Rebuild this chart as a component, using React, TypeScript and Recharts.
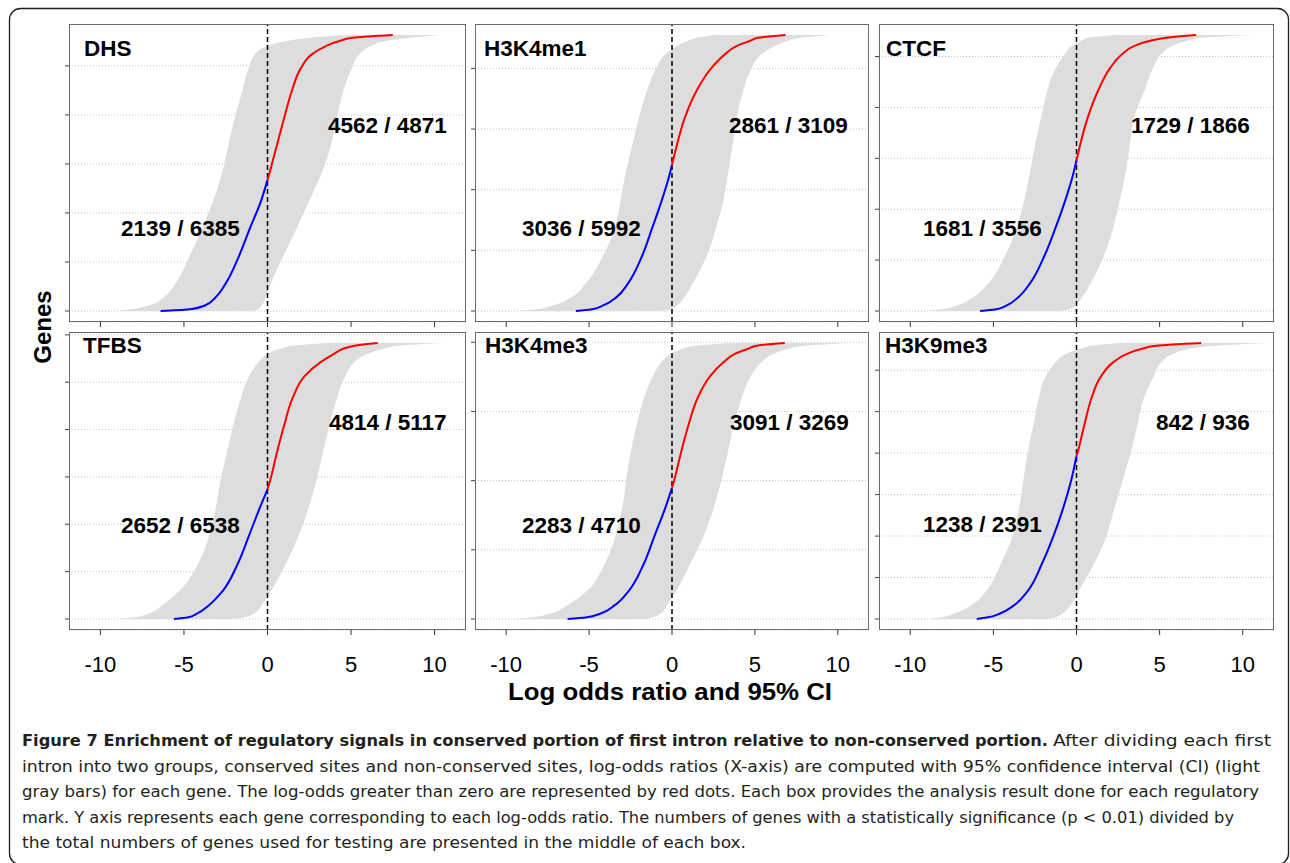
import React from "react";
import { ComposedChart, Area, Line, XAxis, YAxis, CartesianGrid, ReferenceLine } from "recharts";

// quantile of the gene rank (0 = first gene, 1 = last gene), shared by every panel
const quantiles = [0, 0.005, 0.02, 0.05, 0.1, 0.2, 0.3, 0.4, 0.5, 0.6, 0.7, 0.8, 0.88, 0.93, 0.96, 0.98, 0.99, 1];

const marks = ["DHS", "H3K4me1", "CTCF", "TFBS", "H3K4me3", "H3K9me3"];
const sigPositive = [4562, 2861, 1729, 4814, 3091, 842];
const totalPositive = [4871, 3109, 1866, 5117, 3269, 936];
const sigNegative = [2139, 3036, 1681, 2652, 2283, 1238];
const totalNegative = [6385, 5992, 3556, 6538, 4710, 2391];
// rank quantile where the log odds ratio crosses zero (blue -> red)
const crossQuantiles = [0.475, 0.53, 0.545, 0.47, 0.475, 0.59];

const xTicks = [-10, -5, 0, 5, 10];
const geneTicks = [
  [0, 2000, 4000, 6000, 8000, 10000],
  [0, 2000, 4000, 6000, 8000],
  [0, 1000, 2000, 3000, 4000, 5000],
  [0, 2000, 4000, 6000, 8000, 10000, 12000],
  [0, 2000, 4000, 6000, 8000],
  [0, 500, 1000, 1500, 2000, 2500, 3000],
];

// log odds ratio, lower and upper 95% CI at each quantile
const dhsEstimate = [-6.4, -4.8, -3.75, -3.1, -2.5, -1.7, -1.05, -0.38, 0.12, 0.56, 1.0, 1.47, 2.0, 2.65, 3.5, 4.4, 5.1, 7.5];
const dhsLower = [-9.0, -8.3, -7.1, -6.2, -5.5, -4.65, -3.9, -3.25, -2.72, -2.35, -1.95, -1.5, -1.13, -0.75, 0.0, 1.3, 2.5, 4.5];
const dhsUpper = [-1.0, -0.6, -0.35, -0.1, 0.2, 0.95, 1.75, 2.5, 3.25, 3.8, 4.15, 4.55, 5.05, 5.5, 6.2, 7.2, 8.5, 10.3];

const h3k4me1Estimate = [-5.8, -4.9, -4.15, -3.35, -2.65, -1.8, -1.2, -0.62, -0.12, 0.29, 0.77, 1.5, 2.37, 3.19, 3.88, 4.75, 5.2, 6.85];
const h3k4me1Lower = [-9.5, -8.3, -7.2, -6.05, -5.2, -4.15, -3.45, -3.1, -2.8, -2.4, -2.0, -1.5, -0.95, -0.4, 0.3, 1.0, 1.5, 2.5];
const h3k4me1Upper = [-0.5, -0.1, 0.3, 0.75, 1.25, 2.1, 2.65, 3.1, 3.38, 3.65, 3.9, 4.3, 4.8, 5.4, 6.2, 7.0, 7.7, 9.6];

const ctcfEstimate = [-5.8, -4.9, -4.2, -3.5, -2.8, -1.93, -1.27, -0.68, -0.18, 0.21, 0.67, 1.31, 2.02, 2.74, 3.45, 4.5, 5.4, 7.2];
const ctcfLower = [-9.0, -8.2, -7.2, -6.2, -5.3, -4.3, -3.6, -3.15, -2.8, -2.5, -2.13, -1.75, -1.25, -0.7, -0.3, 0.3, 0.7, 2.3];
const ctcfUpper = [-0.9, -0.5, -0.1, 0.35, 0.85, 1.65, 2.2, 2.6, 2.95, 3.2, 3.46, 4.1, 4.6, 5.1, 5.75, 6.7, 7.5, 10.7];

const tfbsEstimate = [-5.6, -4.8, -4.2, -3.5, -2.7, -1.78, -1.12, -0.48, 0.15, 0.55, 0.99, 1.5, 2.22, 3.16, 3.96, 4.57, 5.2, 6.6];
const tfbsLower = [-9.0, -8.1, -7.1, -6.3, -5.3, -4.15, -3.5, -3.1, -2.83, -2.44, -2.06, -1.6, -1.1, -0.55, 0.0, 0.8, 1.5, 3.6];
const tfbsUpper = [-1.8, -1.4, -0.8, -0.35, 0.2, 1.1, 1.85, 2.45, 2.92, 3.3, 3.7, 4.15, 4.65, 5.2, 5.95, 7.0, 7.8, 10.5];

const h3k4me3Estimate = [-6.3, -5.2, -4.3, -3.45, -2.63, -1.7, -1.06, -0.42, 0.12, 0.53, 0.98, 1.54, 2.3, 3.1, 3.76, 4.63, 5.1, 6.8];
const h3k4me3Lower = [-9.5, -8.5, -7.35, -6.3, -5.15, -4.05, -3.4, -3.0, -2.77, -2.5, -2.15, -1.7, -1.15, -0.65, -0.1, 0.7, 1.4, 3.6];
const h3k4me3Upper = [-1.6, -1.2, -0.7, -0.3, 0.25, 1.1, 1.9, 2.5, 2.97, 3.35, 3.72, 4.2, 4.75, 5.4, 6.1, 7.1, 8.0, 10.7];

const h3k9me3Estimate = [-6.0, -5.4, -4.6, -3.75, -2.95, -2.08, -1.39, -0.81, -0.33, 0.05, 0.46, 0.9, 1.48, 2.2, 3.0, 4.0, 4.8, 7.5];
const h3k9me3Lower = [-8.9, -8.2, -7.35, -6.3, -5.45, -4.55, -3.85, -3.45, -3.2, -2.95, -2.6, -2.27, -1.85, -1.25, -0.65, 0.3, 0.9, 2.6];
const h3k9me3Upper = [-1.7, -1.3, -0.85, -0.35, 0.12, 1.05, 1.8, 2.27, 2.76, 3.25, 3.65, 4.05, 4.65, 5.1, 5.8, 6.9, 8.3, 11.5];

const estimates = [dhsEstimate, h3k4me1Estimate, ctcfEstimate, tfbsEstimate, h3k4me3Estimate, h3k9me3Estimate];
const lowers = [dhsLower, h3k4me1Lower, ctcfLower, tfbsLower, h3k4me3Lower, h3k9me3Lower];
const uppers = [dhsUpper, h3k4me1Upper, ctcfUpper, tfbsUpper, h3k4me3Upper, h3k9me3Upper];

const captionBold =
  "Figure 7 Enrichment of regulatory signals in conserved portion of first intron relative to non-conserved portion.";
const captionLines = [
  "After dividing each first",
  "intron into two groups, conserved sites and non-conserved sites, log-odds ratios (X-axis) are computed with 95% confidence interval (CI) (light",
  "gray bars) for each gene. The log-odds greater than zero are represented by red dots. Each box provides the analysis result done for each regulatory",
  "mark. Y axis represents each gene corresponding to each log-odds ratio. The numbers of genes with a statistically significance (p < 0.01) divided by",
  "the total numbers of genes used for testing are presented in the middle of each box.",
];

// layout
const colLeft = [69, 475, 879];
const colWidth = [397, 394, 395];
const rowTop = [24, 332];
const plotH = 298;
const AXIS_W = 8;
const FONT = "'Liberation Sans', Arial, Helvetica, sans-serif";
const blankTick = () => <g />;

// label placement: [x, baseline] for mark name, positive count, negative count
const labelPos = [
  [[84, 56], [328, 133], [121, 236]],
  [[484, 56], [729, 133], [522, 236]],
  [[886, 56], [1131, 133], [923, 236]],
  [[83, 353], [329, 430], [121, 533]],
  [[485, 353], [730, 430], [522, 533]],
  [[885, 353], [1156, 430], [923, 532]],
];

function Panel({ index }: { index: number }) {
  const col = index % 3;
  const row = Math.floor(index / 3);
  const bottomRow = row === 1;
  const width = colWidth[col];
  const n = totalPositive[index] + totalNegative[index];
  const gene = (q: number) => 1 + q * (n - 1);
  const pad = 0.04 * (n - 1);
  const cross = crossQuantiles[index];
  const est = estimates[index];

  const bandRows = quantiles.map((q, k) => ({ gene: gene(q), band: [lowers[index][k], uppers[index][k]] }));
  const negRows = quantiles
    .map((q, k) => ({ q, gene: gene(q), value: est[k] }))
    .filter((d) => d.q < cross)
    .concat([{ q: cross, gene: gene(cross), value: 0 }]);
  const posRows = [{ q: cross, gene: gene(cross), value: 0 }].concat(
    quantiles.map((q, k) => ({ q, gene: gene(q), value: est[k] })).filter((d) => d.q > cross)
  );

  const axisH = bottomRow ? 50 : 8;

  return (
    <div style={{ position: "absolute", left: colLeft[col] - AXIS_W, top: rowTop[row] }}>
      <ComposedChart
        layout="vertical"
        width={width + AXIS_W}
        height={plotH + axisH}
        data={bandRows}
        margin={{ top: 0, right: 0, bottom: 0, left: 0 }}
      >
        <CartesianGrid horizontal vertical={false} stroke="#c4c4c4" strokeDasharray="1 2" />
        <XAxis
          type="number"
          domain={[-11.88, 11.88]}
          ticks={xTicks}
          interval={0}
          allowDataOverflow
          axisLine={false}
          tickSize={5}
          tickLine={{ stroke: "#333" }}
          tickMargin={21}
          height={axisH}
          tick={bottomRow ? { fontSize: 22, fill: "#000", fontFamily: FONT } : blankTick}
        />
        <YAxis
          type="number"
          dataKey="gene"
          domain={[1 - pad, n + pad]}
          ticks={geneTicks[index]}
          interval={0}
          reversed
          allowDataOverflow
          width={AXIS_W}
          tickSize={4}
          tick={blankTick}
          axisLine={false}
          tickLine={{ stroke: "#444" }}
        />
        <Area dataKey="band" type="monotone" fill="#dddddd" fillOpacity={1} stroke="none" isAnimationActive={false} />
        <ReferenceLine x={0} stroke="#000" strokeDasharray="5 3" strokeWidth={1.5} />
        <Line data={negRows} dataKey="value" type="monotone" stroke="#0000ff" strokeWidth={2} dot={false} isAnimationActive={false} />
        <Line data={posRows} dataKey="value" type="monotone" stroke="#ff0000" strokeWidth={2} dot={false} isAnimationActive={false} />
      </ComposedChart>
    </div>
  );
}

export default function App() {
  return (
    <div style={{ position: "absolute", left: 0, top: 0, width: 1290, height: 863, background: "#fff", overflow: "hidden" }}>
      {marks.map((m, i) => (
        <Panel key={m} index={i} />
      ))}
      <svg width={1290} height={863} style={{ position: "absolute", left: 0, top: 0, pointerEvents: "none" }}>
        {/* outer frame */}
        <rect x={9.5} y={8.5} width={1279} height={856} rx={11} fill="none" stroke="#231f20" strokeWidth={1.3} />
        {/* panel boxes */}
        {marks.map((m, i) => (
          <rect
            key={m}
            x={colLeft[i % 3] + 0.5}
            y={rowTop[Math.floor(i / 3)] + 0.5}
            width={colWidth[i % 3] - 1}
            height={plotH - 1}
            fill="none"
            stroke="#6a6a6a"
            strokeWidth={1}
          />
        ))}
        {/* panel labels */}
        {marks.map((m, i) => (
          <g key={m} fontFamily={FONT} fontWeight="bold" fontSize={22.5} fill="#000">
            <text x={labelPos[i][0][0]} y={labelPos[i][0][1]}>{m}</text>
            <text x={labelPos[i][1][0]} y={labelPos[i][1][1]}>{`${sigPositive[i]} / ${totalPositive[i]}`}</text>
            <text x={labelPos[i][2][0]} y={labelPos[i][2][1]}>{`${sigNegative[i]} / ${totalNegative[i]}`}</text>
          </g>
        ))}
        {/* axis titles */}
        <text x={508} y={700} fontFamily={FONT} fontWeight="bold" fontSize={24} textLength={324} lengthAdjust="spacingAndGlyphs">
          Log odds ratio and 95% CI
        </text>
        <text
          transform="translate(51,327) rotate(-90)"
          textAnchor="middle"
          fontFamily={FONT}
          fontWeight="bold"
          fontSize={24}
        >
          Genes
        </text>
        {/* caption */}
        <g fontFamily="'DejaVu Sans Condensed', 'Liberation Sans Narrow', 'Open Sans', sans-serif" fontSize={16} fill="#231f20">
          <text x={22} y={746} fontWeight="bold" textLength={1026} lengthAdjust="spacingAndGlyphs">{captionBold}</text>
          <text x={1053} y={746} textLength={218} lengthAdjust="spacingAndGlyphs">{captionLines[0]}</text>
          <text x={22} y={771.5} textLength={1238} lengthAdjust="spacingAndGlyphs">{captionLines[1]}</text>
          <text x={22} y={797} textLength={1237} lengthAdjust="spacingAndGlyphs">{captionLines[2]}</text>
          <text x={22} y={822.5} textLength={1212} lengthAdjust="spacingAndGlyphs">{captionLines[3]}</text>
          <text x={22} y={848} textLength={724} lengthAdjust="spacingAndGlyphs">{captionLines[4]}</text>
        </g>
      </svg>
    </div>
  );
}
